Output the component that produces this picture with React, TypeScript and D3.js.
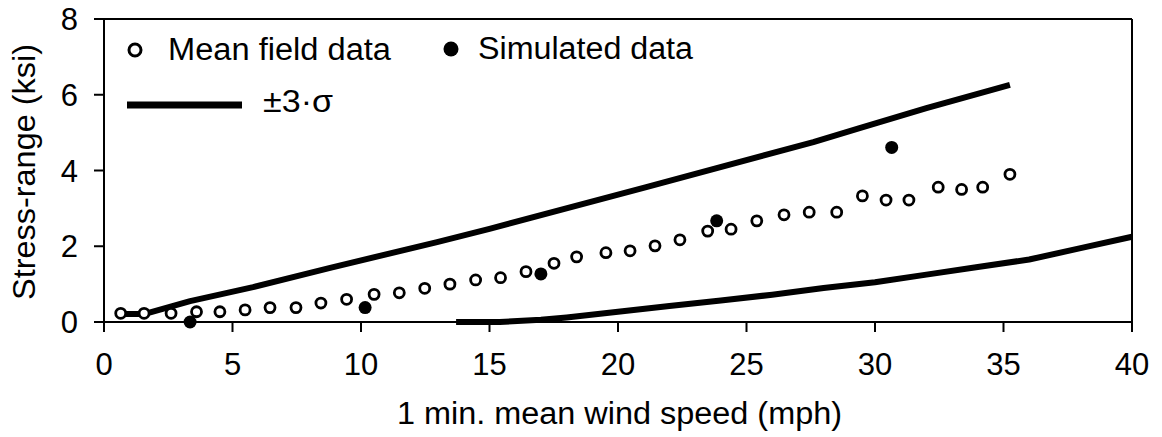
import React from "react";
import * as d3 from "d3";

// Mean field data (open circles)
const fieldX = [0.65, 1.56, 2.61, 3.6, 4.51, 5.49, 6.46, 7.47, 8.44, 9.44, 10.51, 11.49, 12.48, 13.46, 14.46, 15.43, 16.42, 17.51, 18.39, 19.53, 20.47, 21.44, 22.41, 23.49, 24.4, 25.4, 26.46, 27.44, 28.51, 29.51, 30.43, 31.32, 32.46, 33.37, 34.19, 35.25];
const fieldY = [0.23, 0.23, 0.23, 0.27, 0.27, 0.32, 0.38, 0.38, 0.5, 0.6, 0.73, 0.77, 0.89, 1.0, 1.11, 1.17, 1.33, 1.55, 1.72, 1.83, 1.88, 2.01, 2.17, 2.4, 2.45, 2.67, 2.83, 2.9, 2.9, 3.33, 3.22, 3.22, 3.56, 3.5, 3.56, 3.9];

// Simulated data (filled circles)
const simX = [3.35, 10.16, 17.0, 23.84, 30.65];
const simY = [0.0, 0.38, 1.27, 2.67, 4.61];

// +3 sigma line
const upperX = [0.65, 1.56, 3.35, 5.8, 8.8, 12.96, 15.0, 21.1, 27.6, 29.4, 32.0, 35.25];
const upperY = [0.21, 0.21, 0.55, 0.92, 1.43, 2.11, 2.46, 3.56, 4.75, 5.12, 5.65, 6.26];

// -3 sigma line
const lowerX = [13.7, 15.4, 17.0, 18.0, 20.0, 22.0, 24.0, 26.0, 28.0, 30.0, 32.0, 34.0, 36.0, 38.0, 40.0];
const lowerY = [0.0, 0.0, 0.06, 0.12, 0.27, 0.42, 0.57, 0.72, 0.9, 1.05, 1.25, 1.45, 1.65, 1.95, 2.25];

const xTicks = [0, 5, 10, 15, 20, 25, 30, 35, 40];
const yTicks = [0, 2, 4, 6, 8];

const xLabel = "1 min. mean wind speed (mph)";
const yLabel = "Stress-range (ksi)";
const legendField = "Mean field data";
const legendSim = "Simulated data";
const legendSigma = "±3·σ";

export default function App() {
  const W = 1162, H = 437;
  const left = 104, right = 1132, top = 19, bottom = 322;
  const x = d3.scaleLinear().domain([0, 40]).range([left, right]);
  const y = d3.scaleLinear().domain([0, 8]).range([bottom, top]);
  const line = d3.line<[number, number]>().x(d => x(d[0])).y(d => y(d[1]));
  const upper = line(upperX.map((v, i) => [v, upperY[i]]) as [number, number][]) || "";
  const lower = line(lowerX.map((v, i) => [v, lowerY[i]]) as [number, number][]) || "";
  const font = "'Liberation Sans', Arial, Helvetica, sans-serif";
  const fs = 31;
  const tick = 10;

  return (
    <svg width={W} height={H} style={{ position: "absolute", left: 0, top: 0, background: "#fff" }}
      fontFamily={font}>
      <rect x={0} y={0} width={W} height={H} fill="#fff" />
      {/* lines */}
      <path d={upper} fill="none" stroke="#000" strokeWidth={6} strokeLinejoin="round" />
      <path d={lower} fill="none" stroke="#000" strokeWidth={6} strokeLinejoin="round" />
      {/* field circles */}
      {fieldX.map((v, i) => (
        <circle key={"f" + i} cx={x(v)} cy={y(fieldY[i])} r={5} fill="#fff" stroke="#000" strokeWidth={2.8} />
      ))}
      {/* simulated */}
      {simX.map((v, i) => (
        <circle key={"s" + i} cx={x(v)} cy={y(simY[i])} r={6.5} fill="#000" />
      ))}
      {/* frame */}
      <line x1={left - tick} x2={right} y1={top} y2={top} stroke="#000" strokeWidth={2} />
      <line x1={right} x2={right} y1={top} y2={bottom + tick} stroke="#000" strokeWidth={2} />
      <line x1={left - tick} x2={right} y1={bottom} y2={bottom} stroke="#000" strokeWidth={2} />
      <line x1={left} x2={left} y1={top} y2={bottom + tick} stroke="#000" strokeWidth={2} />
      {xTicks.map(t => (
        <g key={"xt" + t}>
          <line x1={x(t)} x2={x(t)} y1={bottom} y2={bottom + tick} stroke="#000" strokeWidth={2} />
          <text x={x(t)} y={375} textAnchor="middle" fontSize={fs} fill="#000">{t}</text>
        </g>
      ))}
      {yTicks.map(t => (
        <g key={"yt" + t}>
          <line x1={left - tick} x2={left} y1={y(t)} y2={y(t)} stroke="#000" strokeWidth={2} />
          <text x={78} y={y(t) + 11} textAnchor="end" fontSize={fs} fill="#000">{t}</text>
        </g>
      ))}
      <text x={397} y={424} fontSize={fs} fill="#000" textLength={445} lengthAdjust="spacingAndGlyphs">{xLabel}</text>
      <text transform={`translate(35, 300) rotate(-90)`} fontSize={fs} fill="#000" textLength={256} lengthAdjust="spacingAndGlyphs">{yLabel}</text>
      {/* legend */}
      <circle cx={135} cy={50} r={6} fill="#fff" stroke="#000" strokeWidth={3} />
      <text x={168} y={60} fontSize={fs} fill="#000" textLength={223} lengthAdjust="spacingAndGlyphs">{legendField}</text>
      <circle cx={451} cy={49} r={7.5} fill="#000" />
      <text x={478} y={59} fontSize={fs} fill="#000" textLength={215} lengthAdjust="spacingAndGlyphs">{legendSim}</text>
      <line x1={127} x2={242} y1={105} y2={105} stroke="#000" strokeWidth={7} />
      <text x={263} y={112} fontSize={fs} fill="#000" textLength={70} lengthAdjust="spacingAndGlyphs">{legendSigma}</text>
    </svg>
  );
}
